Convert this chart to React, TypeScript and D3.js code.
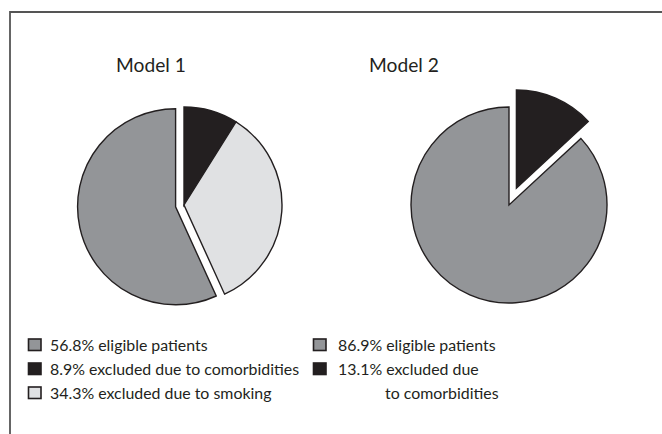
import * as d3 from 'd3'
import React from 'react'

// model 1 and model 2 shares, in percent
const model1Labels = ['56.8% eligible patients', '8.9% excluded due to comorbidities', '34.3% excluded due to smoking']
const model1Values = [56.8, 8.9, 34.3]
const model2Labels = ['86.9% eligible patients', '13.1% excluded due', 'to comorbidities']
const model2Values = [86.9, 13.1]
const titles = ['Model 1', 'Model 2']

const W = 662, H = 434
const INK = '#231f20'
const colors1 = ['#939598', '#231f20', '#e0e1e3']
const colors2 = ['#939598', '#231f20']
const FONT = "Lato, 'Open Sans', sans-serif"

type Slice = d3.PieArcDatum<number>

const makePie = (values: number[]) => {
  const total = d3.sum(values)
  // first slice (eligible) ends at 12 o'clock, the rest follow clockwise
  const start = -2 * Math.PI * values[0] / total
  return d3.pie<number>().sort(null).startAngle(start).endAngle(start + 2 * Math.PI)(values)
}

const Pie = ({ cx, cy, r, values, colors, shift }: {
  cx: number, cy: number, r: number, values: number[], colors: string[],
  shift: (d: Slice) => [number, number]
}) => {
  const arc = d3.arc<Slice>().innerRadius(0).outerRadius(r)
  const slices = makePie(values)
  return (
    <g transform={`translate(${cx},${cy})`}>
      {slices.map((d, i) => {
        const [dx, dy] = shift(d)
        return <path key={i} d={arc(d) as string} fill={colors[i]} stroke={INK} strokeWidth={1.4}
          strokeLinejoin='miter' transform={`translate(${dx},${dy})`} />
      })}
    </g>
  )
}

const Legend = ({ x, y, tx, labels, colors, rowH }: {
  x: number, y: number, tx: number, labels: string[], colors: (string | null)[], rowH: number
}) => (
  <g transform={`translate(${x},${y})`}>
    {labels.map((t, i) => (
      <g key={i} transform={`translate(0,${i * rowH})`}>
        {colors[i] && <rect x={0.5} y={-11.5} width={12.5} height={11.5} fill={colors[i] as string} stroke={INK} strokeWidth={1.6} />}
        <text x={tx} y={0} fontSize={15.9} fill={INK} fontFamily={FONT}
          dx={colors[i] ? 0 : 47}>{t}</text>
      </g>
    ))}
  </g>
)

export default function App() {
  const r = 98
  // explode offsets along the slice bisector
  const bisect = (d: Slice, dist: number): [number, number] => {
    const a = (d.startAngle + d.endAngle) / 2
    return [Math.sin(a) * dist, -Math.cos(a) * dist]
  }
  return (
    <svg width={W} height={H} style={{ position: 'absolute', left: 0, top: 0, background: '#fff' }}>
      <rect width={W} height={H} fill='#fff' />
      <path d={`M${W},12 H10 V${H}`} fill='none' stroke='#555' strokeWidth={1.8} />
      <text x={151} y={71.5} textAnchor='middle' fontSize={19.2} fill={INK} fontFamily={FONT}>{titles[0]}</text>
      <text x={404} y={71.5} textAnchor='middle' fontSize={19.2} fill={INK} fontFamily={FONT}>{titles[1]}</text>
      <Pie cx={184} cy={205} r={r} values={model1Values} colors={colors1}
        shift={d => d.index === 0 ? [-8.4, 1.8] : [0, 0]} />
      <Pie cx={509} cy={205} r={r} values={model2Values} colors={colors2}
        shift={d => d.index === 1 ? bisect(d, 18.5) : [0, 0]} />
      <Legend x={28} y={350.5} tx={22} labels={model1Labels} colors={colors1} rowH={24} />
      <Legend x={313} y={350.5} tx={25} labels={model2Labels} colors={[...colors2, null]} rowH={24} />
    </svg>
  )
}
